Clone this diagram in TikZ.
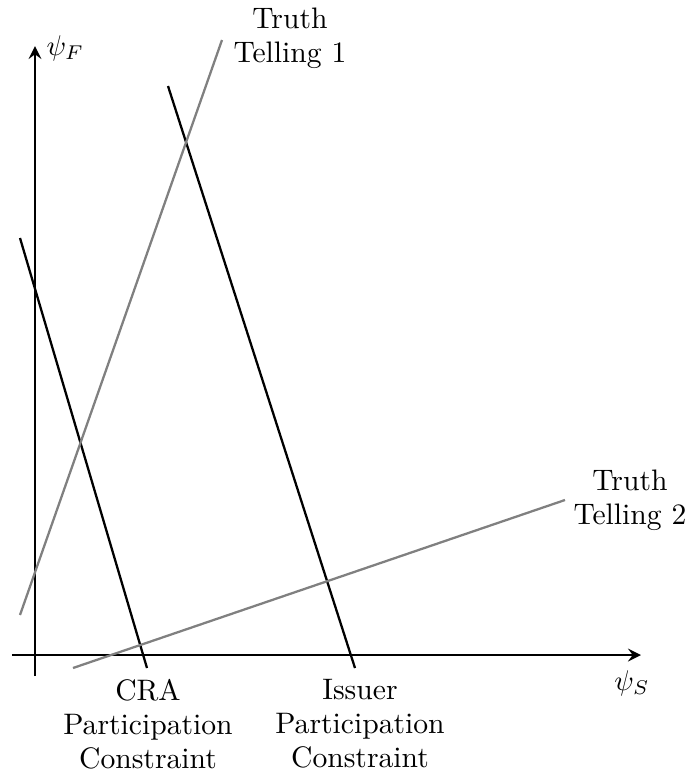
\documentclass[tikz,border=0pt]{standalone}
\begin{document}
\begin{tikzpicture}[x=0.351pt,y=-0.351pt,
  axis/.style={line width=1pt,-stealth},
  pc/.style={line width=0.8pt,black},
  tt/.style={line width=0.8pt,gray},
  lbl/.style={align=center,inner sep=0pt,font=\fontsize{10.4}{12}\selectfont}]
\useasboundingbox (0,0) rectangle (688,778);
% axes
\coordinate (xs) at (12,655);
\coordinate (xe) at (641,655);
\coordinate (ys) at (35,676);
\coordinate (ye) at (35,46);
\draw[axis] (xs) -- (xe);
\draw[axis] (ys) -- (ye);
\node[anchor=west,inner sep=0pt,font=\fontsize{10.4}{12}\selectfont] (psiF) at (46,48) {$\psi_F$};
\node[inner sep=0pt,font=\fontsize{10.4}{12}\selectfont] (psiS) at (632,683) {$\psi_S$};
% lines
\coordinate (cra1) at (20,238);
\coordinate (cra2) at (147,668);
\coordinate (iss1) at (168,86);
\coordinate (iss2) at (355,668);
\coordinate (tta) at (20,615);
\coordinate (ttb) at (222,40);
\coordinate (ttc) at (73,668);
\coordinate (ttd) at (565,500);
\draw[pc] (cra1) -- (cra2);
\draw[pc] (iss1) -- (iss2);
\draw[tt] (tta) -- (ttb);
\draw[tt] (ttc) -- (ttd);
% labels
\node[lbl] (tt1) at (290,38) {Truth\\Telling 1};
\node[lbl] (tt2) at (630,500) {Truth\\Telling 2};
\node[lbl] (cral) at (148,724) {CRA\\Participation\\Constraint};
\node[lbl] (issl) at (360,724) {Issuer\\Participation\\Constraint};
\end{tikzpicture}
\end{document}
